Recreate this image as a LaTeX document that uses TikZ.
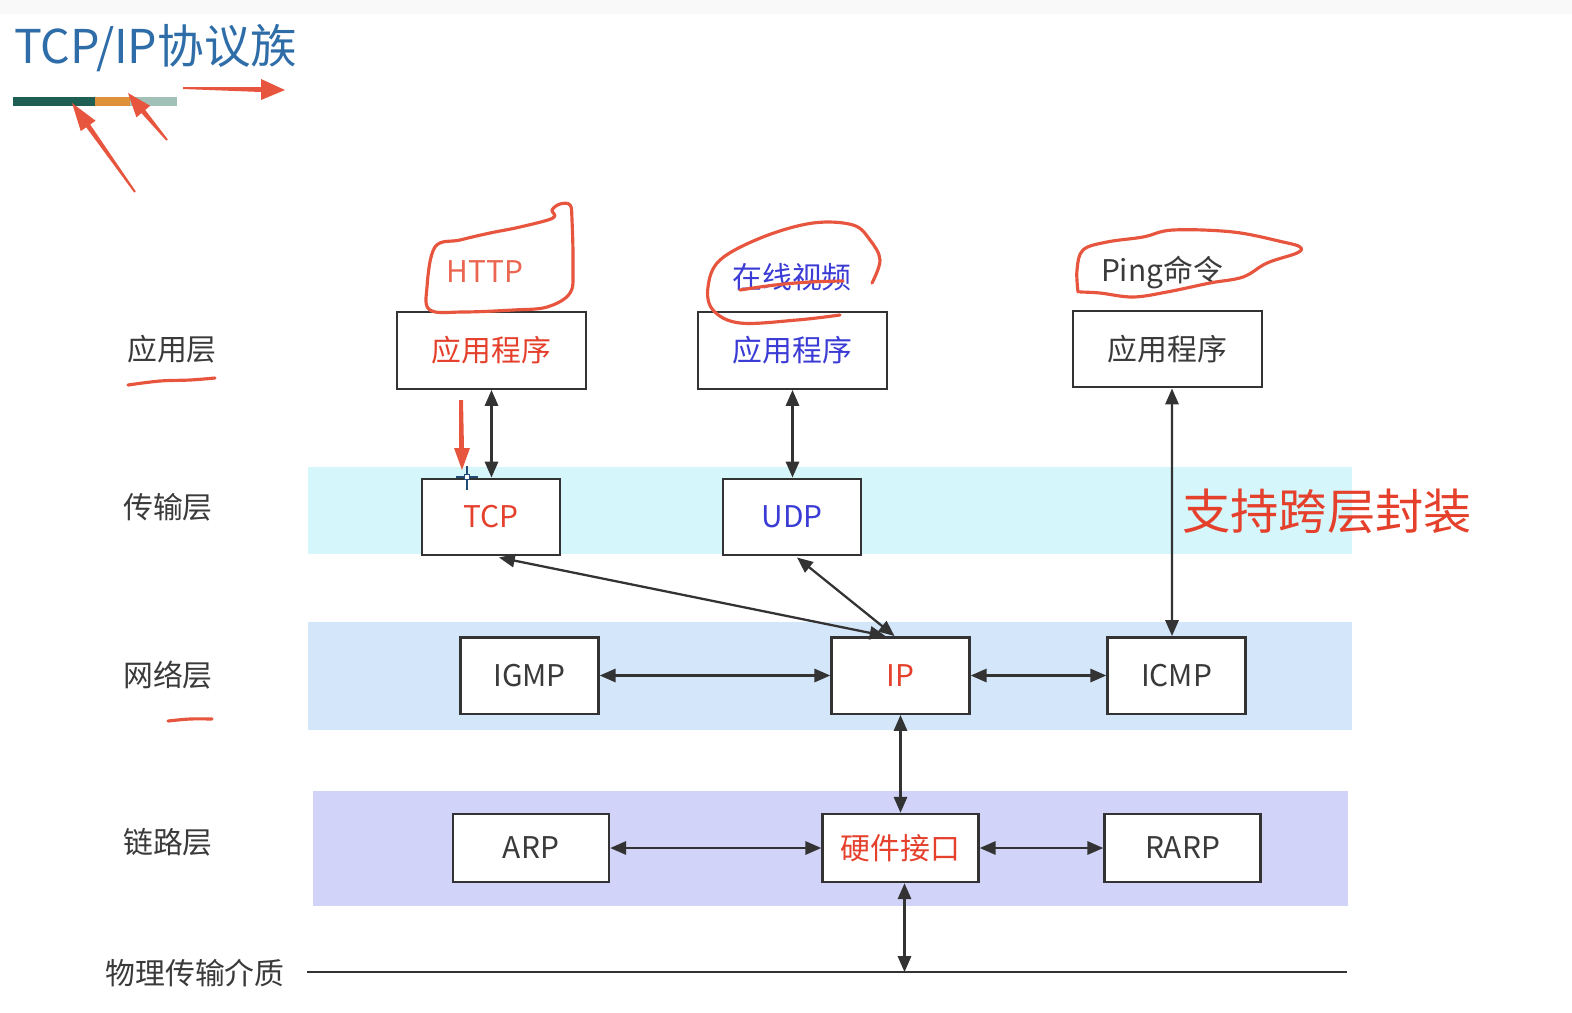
\documentclass[tikz,border=0pt]{standalone}
\usepackage{fontspec}
\newfontfamily\cjk{Noto Sans CJK SC}
\usetikzlibrary{arrows.meta,calc}
\definecolor{titleblue}{HTML}{2E6DA8}
\definecolor{boxgray}{HTML}{333333}
\definecolor{labgray}{HTML}{3A3A3A}
\definecolor{penred}{HTML}{E8553E}
\definecolor{txtred}{HTML}{E5402C}
\definecolor{txtblue}{HTML}{3B3BD6}
\definecolor{transband}{HTML}{D5F6FA}
\definecolor{netband}{HTML}{D3E6FA}
\definecolor{linkband}{HTML}{D1D4F8}
\definecolor{bargreen}{HTML}{1F5E52}
\definecolor{barorange}{HTML}{DF913A}
\definecolor{bargrey}{HTML}{A0C0B8}
\begin{document}
\begin{tikzpicture}[x=0.02cm,y=-0.02cm,
    proto/.style={draw=boxgray,line width=1.4pt,fill=white,inner sep=0pt,
      minimum width=2.76cm,minimum height=1.53cm,font=\cjk\fontsize{17}{20}\selectfont},
    appbox/.style={proto,minimum width=3.78cm},
    linkbox/.style={proto,minimum width=3.12cm,minimum height=1.36cm},
    layername/.style={text=labgray,font=\cjk\fontsize{17}{20}\selectfont},
    biarrow/.style={draw=boxgray,line width=1.3pt,
      {Triangle[length=9pt,width=7.5pt]}-{Triangle[length=9pt,width=7.5pt]}},
    scribble/.style={draw=penred,line width=1.8pt,line cap=round,line join=round}]
  \useasboundingbox (0,0) rectangle (1572,1012);
  \fill[gray!5] (0,0) rectangle (1572,14);

  \node[anchor=west,text=titleblue,font=\cjk\fontsize{26.5}{30}\selectfont] (title) at (8,48) {TCP/IP协议族};
  \fill[bargreen] (13,97) rectangle (95,106);
  \fill[barorange] (95,97) rectangle (130,106);
  \fill[bargrey] (130,97) rectangle (177,106);

  % layer bands
  \fill[transband] (308,467) rectangle (1352,554);
  \fill[netband] (308,622) rectangle (1352,730);
  \fill[linkband] (313,791) rectangle (1348,906);

  \node[layername] (lapp) at (172,349) {应用层};
  \node[layername] (ltrans) at (168,507) {传输层};
  \node[layername] (lnet) at (168,675) {网络层};
  \node[layername] (llink) at (168,842) {链路层};
  \node[layername] (lphys) at (195,973) {物理传输介质};

  \node[layername,text=penred!90!white] (http) at (485,272) {HTTP};
  \node[layername,text=txtblue] (video) at (792,277) {在线视频};
  \node[layername] (ping) at (1162,272) {Ping命令};

  \node[appbox,text=txtred] (app1) at (491.5,350.5) {应用程序};
  \node[appbox,text=txtblue] (app2) at (792.5,350.5) {应用程序};
  \node[appbox,text=labgray] (app3) at (1167.5,349) {应用程序};
  \node[proto,text=txtred] (tcp) at (491,517) {TCP};
  \node[proto,text=txtblue] (udp) at (792,517) {UDP};
  \node[proto,text=labgray] (igmp) at (529.5,675.5) {IGMP};
  \node[proto,text=txtred] (ip) at (900.5,675.5) {IP};
  \node[proto,text=labgray] (icmp) at (1176.5,675.5) {ICMP};
  \node[linkbox,text=labgray] (arp) at (531,848) {ARP};
  \node[linkbox,text=txtred] (hw) at (900.5,848) {硬件接口};
  \node[linkbox,text=labgray] (rarp) at (1182.5,848) {RARP};

  \node[text=txtred,font=\cjk\fontsize{27.5}{32}\selectfont] (cross) at (1327,511) {支持跨层封装};

  \coordinate (physL) at (307,972);
  \coordinate (physR) at (1347,972);
  \draw[boxgray,line width=1.4pt] (physL) -- (physR);

  \draw[biarrow] (app1.south) -- (app1.south |- tcp.north);
  \draw[biarrow] (app2.south) -- (app2.south |- udp.north);
  \draw[biarrow] ($(app3.south)+(4.5,0)$) -- ($(icmp.north)+(-4.5,0)$);
  \draw[biarrow] ($(tcp.south)+(8,1)$) -- ($(ip.north)+(-15,0)$);
  \draw[biarrow] ($(udp.south)+(5,1)$) -- ($(ip.north)+(-6,0)$);
  \draw[biarrow] (igmp.east) -- (ip.west);
  \draw[biarrow] (ip.east) -- (icmp.west);
  \draw[biarrow] (ip.south) -- (ip.south |- hw.north);
  \draw[biarrow] (arp.east) -- (hw.west);
  \draw[biarrow] (hw.east) -- (rarp.west);
  \draw[biarrow] ($(hw.south)+(4,0)$) -- ($(hw.south |- physL)+(4,0)$);

  % pen marks
  \draw[scribble] plot[smooth cycle,tension=0.6] coordinates {(430,310) (427,287) (435,247) (460,240)
    (490,233) (520,227) (553,218) (552,210) (560,204) (570,205) (572,220) (573,267) (570,293)
    (547,307) (513,310) (463,312)};
  \draw[scribble] plot[smooth,tension=0.6] coordinates {(840,315) (797,320) (740,323) (713,310)
    (708,287) (720,260) (763,237) (813,223) (853,225) (870,240) (880,260) (872,283)};
  \draw[scribble] plot[smooth,tension=0.6] coordinates {(740,290) (775,285) (810,282) (843,281)};
  \draw[scribble] plot[smooth,tension=0.6] coordinates {(1078,292) (1077,270) (1083,250) (1107,242)
    (1143,237) (1173,230) (1233,232) (1283,242) (1300,247) (1297,253) (1267,263) (1243,277)
    (1210,283) (1167,292) (1133,297) (1100,293) (1080,292)};
  \draw[scribble] plot[smooth,tension=0.6] coordinates {(128,385) (160,381) (190,380) (215,378)};
  \draw[scribble] plot[smooth,tension=0.6] coordinates {(168,721) (190,719) (212,719)};

  \fill[penred] (459,400) -- (463,400) -- (464,448) -- (470,448) -- (462,470) -- (454,448)
    -- (459,448) -- cycle;
  \fill[penred] (135.8,191.4) -- (90.2,124.5) -- (95.6,120.7) -- (72,103) -- (80.8,131.1)
    -- (86.2,127.3) -- (134.2,192.6) -- cycle;
  \fill[penred] (167.8,139.4) -- (145.2,109.9) -- (150.2,105.8) -- (128,93) -- (136.4,117.3)
    -- (141.4,113.1) -- (166.2,140.6) -- cycle;
  \fill[penred] (183,87) -- (261,87) -- (261,79) -- (285,90) -- (261,100) -- (261,92)
    -- (183,89) -- cycle;

  % cursor
  \draw[titleblue!70!black,line width=0.6pt] (456,477) -- (478,477) (467,466) -- (467,490);
  \draw[titleblue!70!black,fill=white,line width=0.5pt] (464.5,474.5) rectangle (469.5,479.5);
\end{tikzpicture}
\end{document}
